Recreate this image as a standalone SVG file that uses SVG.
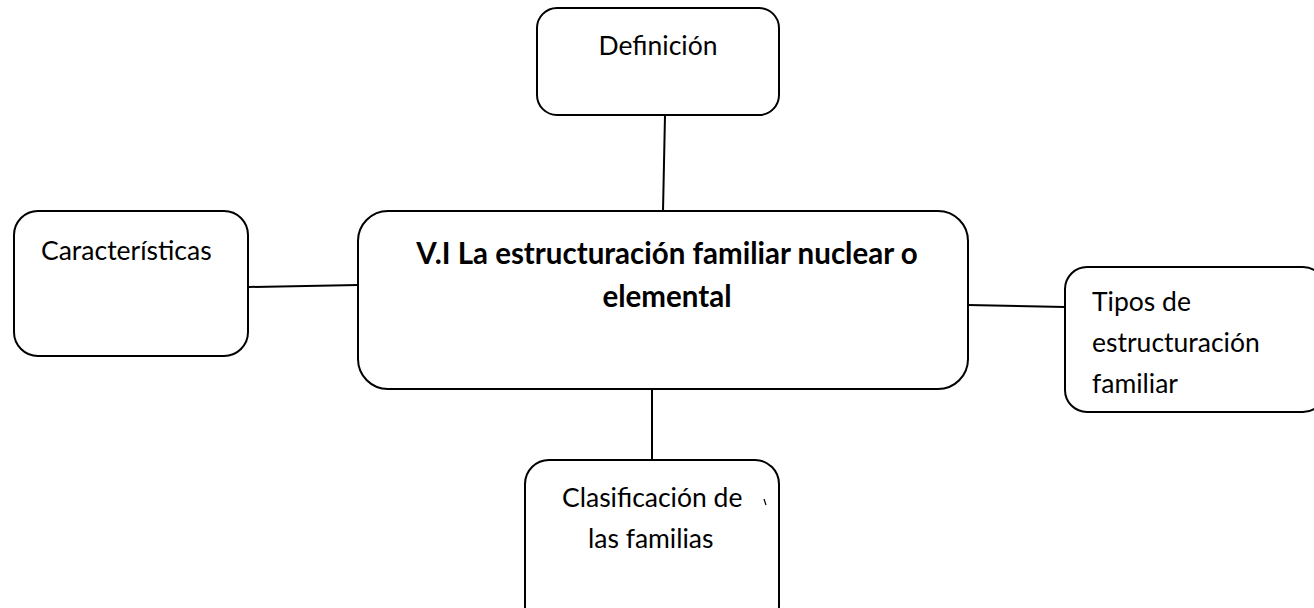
<svg xmlns="http://www.w3.org/2000/svg" width="1314" height="608" viewBox="0 0 1314 608">
<style>
.box{fill:#fff;stroke:#000;stroke-width:2}
.ln{stroke:#000;stroke-width:2;fill:none}
.t{font-family:Lato,"Liberation Sans",sans-serif;font-size:26.5px;fill:#000}
.b{font-weight:bold;text-anchor:middle;font-size:29.5px}
</style>
<rect width="1314" height="608" fill="#fff"/>
<g id="connectors">
<line class="ln" x1="665" y1="115" x2="663" y2="211"/>
<line class="ln" x1="249" y1="287" x2="358" y2="285"/>
<line class="ln" x1="968" y1="305" x2="1065" y2="307"/>
<line class="ln" x1="652" y1="389" x2="652" y2="461"/>
</g>
<g id="definicion">
<rect class="box" x="537" y="8" width="242" height="107" rx="20"/>
<text class="t" x="658" y="55" text-anchor="middle">Definición</text>
</g>
<g id="caracteristicas">
<rect class="box" x="14" y="211" width="234" height="145" rx="24"/>
<text class="t" x="41" y="260">Características</text>
</g>
<g id="central">
<rect class="box" x="358" y="211" width="610" height="178" rx="30"/>
<text class="t b" x="667" y="264">V.I La estructuración familiar nuclear o</text>
<text class="t b" x="667" y="307">elemental</text>
</g>
<g id="tipos">
<rect class="box" x="1065" y="267" width="260" height="145" rx="22"/>
<text class="t" x="1092" y="311">Tipos de</text>
<text class="t" x="1092" y="352">estructuración</text>
<text class="t" x="1092" y="393">familiar</text>
</g>
<g id="clasificacion">
<rect class="box" x="525" y="460" width="254" height="170" rx="24"/>
<text class="t" x="562" y="507">Clasificación de</text>
<text class="t" x="588" y="548">las familias</text>
<line class="ln" x1="764" y1="499" x2="766" y2="505" style="stroke-width:1.2"/>
</g>
</svg>
